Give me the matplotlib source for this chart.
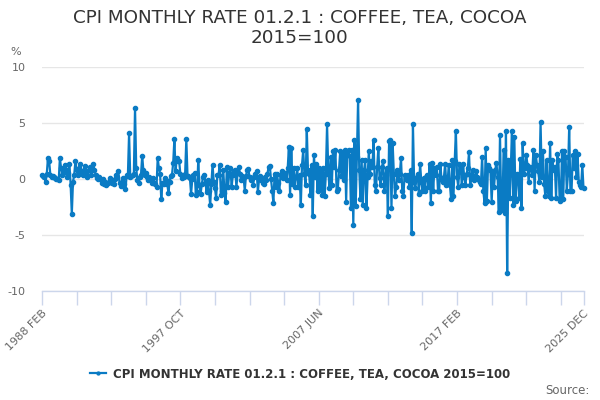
import matplotlib
matplotlib.use('Agg')
import matplotlib.pyplot as plt

# Monthly rate (%), 1988 FEB .. 2025 DEC
seg_1988_1994 = [0.4, 0.3, 0.2, -0.2, 0.5, 1.9, 1.6, 0.4, 0.2, 0.3, 0.2, 0.1, 0.0, 0.0, -0.1,
                 1.9, 1.0, 0.4, 0.6, 1.3, 0.8, 0.2, 0.6, 1.4, -0.5, -3.1, -0.2, 0.4, 1.6, 0.8,
                 0.4, 1.0, 1.4, 0.6, 0.4, 0.8, 1.2, 0.5, 0.2, 0.8, 1.1, 0.4, 0.8, 1.4, 0.8,
                 0.4, 0.1, 0.0, 0.2, 0.0, -0.3, 0.0, -0.4, -0.2, -0.5, -0.3, -0.2, 0.1, -0.1,
                 -0.3, -0.4, 0.0, 0.4, 0.2, 0.7, -0.3, -0.6, -0.2, 0.1, -0.4, -0.9, 0.4, 0.3, 4.1]
seg_1994_2000 = [0.2, 0.3, 0.4, 0.5, 6.4, 1.0, -0.1, -0.3, 0.2, 0.4, 2.1, 0.8, 0.4, 0.6, 0.2,
                 -0.1, 0.2, 0.0, -0.3, 0.1, -0.3, -0.4, -0.7, 1.9, 1.0, 0.5, -1.8, -0.3, -0.4,
                 0.1, -0.1, -0.4, -1.2, -0.2, 0.3, 0.4, 1.5, 3.6, 0.7, 1.9, 1.6, 1.6, 0.5, 0.1,
                 0.3, 0.2, 0.5, 3.6, 0.3, 0.2, 0.1, -1.3, 0.0, 0.4, 0.6, -1.4, -1.1, 1.7, -0.5,
                 -1.3, -0.4, 0.2, 0.4, -0.3, -1.1, -0.1, -1.0, -2.3, -0.4, 1.3, -0.2, -0.8, -1.7,
                 0.4, 0.4, 1.3, -1.4]
seg_2000_2006 = [-1.0, 0.8, -1.2, -2.0, 1.1, -0.7, 0.6, 1.0, -0.7, 0.4, 0.7, 0.8, -0.7, 0.6,
                 1.1, 0.5, -0.1, 0.3, 0.2, -1.0, 0.3, 0.8, 0.9, 0.2, -0.1, 0.1, -0.5, 0.2, 0.5,
                 0.7, -1.1, 0.0, 0.3, -0.1, -0.3, -0.4, 0.2, -0.1, 0.5, 1.1, 1.2, 0.0, -1.0,
                 -2.1, 0.5, -0.7, 0.5, -0.3, -1.0, 0.4, 0.7, 0.1, 0.3, 0.6, -0.1, 1.0, 2.9, -1.4,
                 2.8, -0.4, 1.0, -0.7, 0.2, 1.0, -0.7, 0.4, -2.3, 1.3, 2.6, 0.5, -0.5, 4.5, 0.8,
                 0.5, -1.4, 1.3]
seg_2007_2013 = [-3.3, 2.2, 0.2, 1.4, -1.0, 1.0, -0.7, 0.8, -1.4, 1.0, -1.5, 0.5, 4.9, 0.8, -0.8,
                 2.0, -0.5, 2.5, 1.1, 2.6, -1.0, -0.9, 0.8, 2.5, 0.3, 2.4, -0.1, 2.6, -2.0, 2.5,
                 2.6, 2.1, -2.6, 2.6, -4.1, 3.5, -2.4, 2.0, 7.1,
                 0.8, -1.8, 1.7, -2.3, 0.8, 1.7, -2.6, 0.2, 2.5, 0.5, 1.6, 1.1, 3.5, -0.5, -1.0,
                 1.1, 2.8, 0.1, -0.5, 1.1, 1.6, -1.0, 0.4, 1.0, -3.3, 3.4, 3.5, -2.6, 3.2, 0.5,
                 -1.5, -0.7, 0.8, -0.1, 0.5, 1.9, -1.0, -1.5, 0.4, 0.1]
seg_2013_2019 = [-0.1, 0.4, -0.7, 0.8, -4.8, 4.9, -0.2, -0.8, 0.2, 0.5, -1.3, 1.4, -0.2, -1.0,
                 0.1, -1.0, 0.2, 0.4, -0.7, 1.4, -2.1, 1.5, -1.0, 1.0, 0.4, 1.1, -1.0, -1.0, 1.4,
                 -0.1, -0.2, 0.2, 1.4, -0.5, -0.4, 1.3, -0.5, -1.8, 1.7, -1.5, 1.6, 4.3, 0.2,
                 -0.7, 1.4, 1.1, -0.5, 1.4, 0.2, -0.5, 0.5, 1.0, 2.4, -0.5, 0.2, 0.8, -0.1, 0.3,
                 0.7, 0.2, -0.1, -0.2, -0.4, 2.0, -1.0, -2.1, 2.8, -1.9, 1.3, 1.0, 0.8, -2.0, 0.5,
                 -0.7, 0.8, 1.5]
seg_2019_2025 = [0.2, -2.9, 4.0, -2.4, -2.7, 2.6, -3.0, 4.3, -8.4, 1.7, -1.7, 0.8, 4.3, -2.3,
                 3.8, -1.9, 0.5, 0.4, -1.7, 1.8, -2.6, 3.2, 0.5, 1.0, 2.2, 1.3, -0.2, 1.1, 1.0,
                 0.4, 2.6, -1.0, 2.2, 1.3, 0.7, -0.2, 5.1, 0.2, 2.5, -0.4, -1.5, 1.7, -1.0, -1.5,
                 3.2, -1.7, 1.7, 0.8, 1.1, -1.7, 2.3, 1.7, -1.9, -1.8, 2.5, -1.8, 2.5, 2.0, -1.0,
                 0.5, 4.7, -1.0, -1.0, 2.2, 1.0, 2.5, 0.2, 2.3, -0.2, -0.5, -0.7, 1.3, -0.8]

values = (seg_1988_1994 + seg_1994_2000 + seg_2000_2006 +
          seg_2007_2013 + seg_2013_2019 + seg_2019_2025)
month_names = ['JAN', 'FEB', 'MAR', 'APR', 'MAY', 'JUN',
               'JUL', 'AUG', 'SEP', 'OCT', 'NOV', 'DEC']
start_year, start_month = 1988, 1  # FEB
n = len(values)
categories = [f"{start_year + (start_month + i) // 12} {month_names[(start_month + i) % 12]}"
              for i in range(n)]
series_name = "CPI MONTHLY RATE 01.2.1 : COFFEE, TEA, COCOA 2015=100"
title = "CPI MONTHLY RATE 01.2.1 : COFFEE, TEA, COCOA\n2015=100"

color = '#0a7bc4'
fig = plt.figure(figsize=(6, 4), dpi=100)
W, H = 600, 400
left, right, top, bottom = 42, 583.5, 67.3, 291.3
ax = fig.add_axes([left / W, (H - bottom) / H, (right - left) / W, (bottom - top) / H])

line, = ax.plot(range(n), values, color=color, lw=1.6, marker='o', ms=3.0,
                clip_on=False, zorder=3, label=series_name)
ax.set_xlim(0, n - 1)
ax.set_ylim(-10, 10)
ax.set_yticks([-10, -5, 0, 5, 10])
ax.set_yticklabels(['-10', '-5', '0', '5', '10'])
ax.grid(axis='y', color='#e6e6e6', lw=1)
ax.set_axisbelow(True)
for s in ['top', 'right', 'left']:
    ax.spines[s].set_visible(False)
ax.spines['bottom'].set_color('#ccd6eb')
ax.spines['bottom'].set_linewidth(1)

tick_pos = list(range(0, n, 29)) + [n - 1]
tick_lab = [categories[i] if (i % 116 == 0 or i == n - 1) else '' for i in tick_pos]
ax.set_xticks(tick_pos)
ax.set_xticklabels(tick_lab, rotation=45, ha='right', rotation_mode='anchor',
                   fontsize=8, color='#666666')
ax.tick_params(axis='x', length=10, width=1, color='#ccd6eb', pad=2)
ax.tick_params(axis='y', length=0, labelsize=8, labelcolor='#666666', pad=12)

fig.text(300 / W, 1 - 28 / H, title, ha='center', va='center', fontsize=13.2,
         color='#333333', linespacing=1.2)
fig.text(10 / W, 1 - 52 / H, '%', ha='left', va='center', fontsize=8, color='#666666')

leg = fig.legend(handles=[line], loc='center', bbox_to_anchor=(0.5, 1 - 374 / H),
                 frameon=False, prop={'weight': 'bold', 'size': 8.5},
                 handlelength=1.4, handletextpad=0.6, markerscale=0.7)
for t in leg.get_texts():
    t.set_color('#333333')
fig.text(590 / W, 1 - 390 / H, 'Source:', ha='right', va='center', fontsize=8.5,
         color='#666666')

fig.savefig('out.png', dpi=100)
